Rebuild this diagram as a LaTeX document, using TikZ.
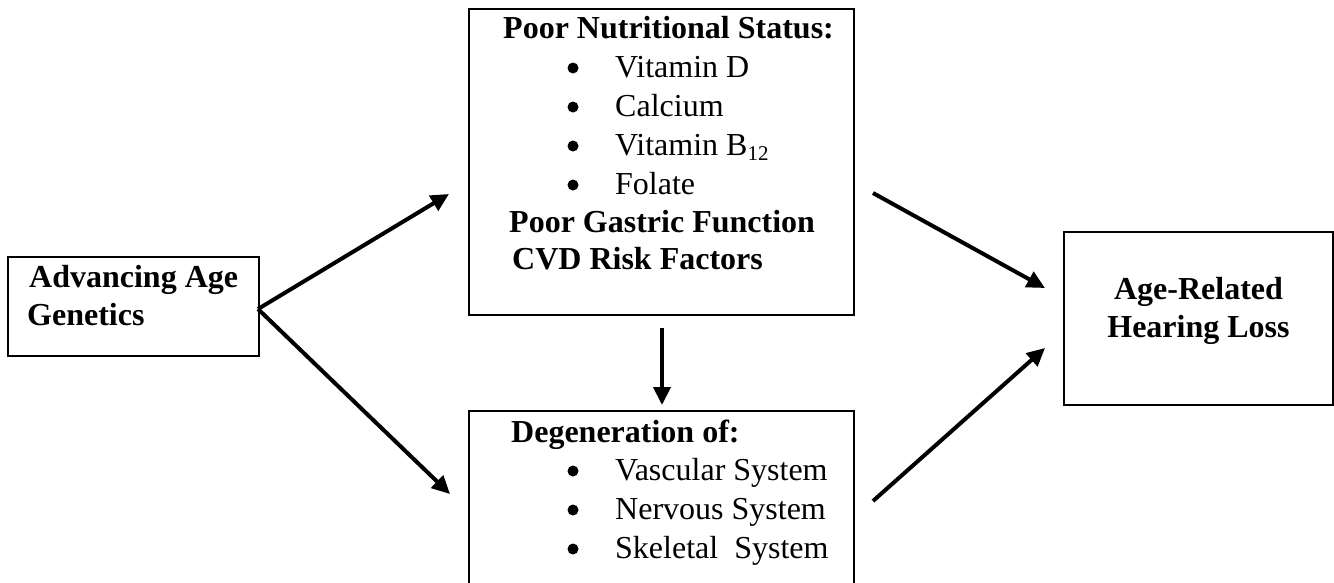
\documentclass[tikz,border=0pt]{standalone}
\usepackage{fontspec}
\setmainfont{Liberation Serif}
\usetikzlibrary{arrows.meta}
\begin{document}
\begin{tikzpicture}[x=1pt,y=-1pt,
  box/.style={draw, line width=1.8pt, inner sep=0pt, outer sep=0pt},
  conn/.style={line width=4pt, -{Triangle[length=18pt,width=17pt]}},
  bt/.style={font=\fontsize{32}{38}\selectfont\bfseries, inner sep=0pt, anchor=base west},
  bc/.style={font=\fontsize{32}{38}\selectfont\bfseries, inner sep=0pt, anchor=base},
  rt/.style={font=\fontsize{32}{38}\selectfont, inner sep=0pt, anchor=base west},
  bul/.style={circle, fill, inner sep=0pt, minimum size=11pt}]
\useasboundingbox (0,0) rectangle (1334,582);
\clip (0,0) rectangle (1334,582);
% boxes
\node[box, minimum width=251pt, minimum height=99pt] (A) at (133.5,306.5) {};
\node[box, minimum width=385pt, minimum height=306pt] (B) at (661.5,162) {};
\node[box, minimum width=385pt, minimum height=209pt] (C) at (661.5,515.5) {};
\node[box, minimum width=269pt, minimum height=173pt] (D) at (1198.5,318.5) {};
% box A text
\node[bt] (a1) at (29,287) {Advancing Age};
\node[bt] (a2) at (27,325) {Genetics};
% box B text
\node[bt] (b0) at (503,38) {Poor Nutritional Status:};
\node[bul] (bb1) at (573,68) {};
\node[rt] (b1) at (615,77) {Vitamin D};
\node[bul] (bb2) at (573,107) {};
\node[rt] (b2) at (615,116) {Calcium};
\node[bul] (bb3) at (573,146) {};
\node[rt] (b3) at (615,155) {Vitamin B\raisebox{-5pt}{\fontsize{21}{21}\selectfont 12}};
\node[bul] (bb4) at (573,185) {};
\node[rt] (b4) at (615,194) {Folate};
\node[bt] (b5) at (509,232) {Poor Gastric Function};
\node[bt] (b6) at (512,269) {CVD Risk Factors};
% box C text
\node[bt] (c0) at (511,442) {Degeneration of:};
\node[bul] (cb1) at (573,471) {};
\node[rt] (c1) at (615,480) {Vascular System};
\node[bul] (cb2) at (573,510) {};
\node[rt] (c2) at (615,519) {Nervous System};
\node[bul] (cb3) at (573,549) {};
\node[rt] (c3) at (615,558) {Skeletal\ \ System};
% box D text
\node[bc] (d1) at (1198.5,299) {Age-Related};
\node[bc] (d2) at (1198.5,337) {Hearing Loss};
% connector ends
\coordinate (sA) at (258,309);
\coordinate (tAB) at (449,194);
\coordinate (tAC) at (450,494);
\coordinate (sBC) at (662,328);
\coordinate (tBC) at (662,405);
\coordinate (sBD) at (873,193);
\coordinate (tBD) at (1045,288);
\coordinate (sCD) at (873,501);
\coordinate (tCD) at (1045,348);
\draw[conn] (sA) -- (tAB);
\draw[conn] (sA) -- (tAC);
\draw[conn] (sBC) -- (tBC);
\draw[conn] (sBD) -- (tBD);
\draw[conn] (sCD) -- (tCD);
\end{tikzpicture}
\end{document}
